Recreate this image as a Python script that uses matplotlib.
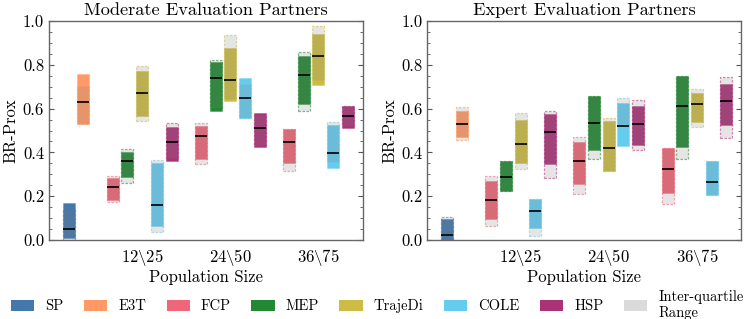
import numpy as np
import matplotlib
matplotlib.use("Agg")
import matplotlib.pyplot as plt
from matplotlib.patches import Patch
from matplotlib.colors import to_rgba
from matplotlib.ticker import MultipleLocator, FormatStrFormatter

plt.rcParams['font.family'] = 'serif'
plt.rcParams['font.serif'] = ['cmr10']
plt.rcParams['mathtext.fontset'] = 'cm'
plt.rcParams['axes.formatter.use_mathtext'] = True
plt.rcParams['font.size'] = 12

# methods and population sizes
methods = ['SP', 'E3T', 'FCP', 'MEP', 'TrajeDi', 'COLE', 'HSP']
colors = ['#4477AA', '#FF9966', '#EE6677', '#228833', '#CCBB44', '#66CCEE', '#AA3377']
pop_sizes = [r'$12\backslash25$', r'$24\backslash50$', r'$36\backslash75$']
titles = ['Moderate Evaluation Partners', 'Expert Evaluation Partners']

# --- Moderate evaluation partners ---
# SP and E3T: [lo, hi, q1, q3, median]
mod_sp = [0.008, 0.167, 0.0, 0.14, 0.052]
mod_e3t = [0.528, 0.758, 0.528, 0.703, 0.629]
# population methods (FCP, MEP, TrajeDi, COLE, HSP) x (12\25, 24\50, 36\75)
mod_lo = [[0.183, 0.368, 0.350],
          [0.286, 0.589, 0.619],
          [0.568, 0.636, 0.706],
          [0.065, 0.556, 0.330],
          [0.362, 0.426, 0.510]]
mod_hi = [[0.283, 0.521, 0.505],
          [0.403, 0.813, 0.842],
          [0.773, 0.878, 0.942],
          [0.350, 0.738, 0.525],
          [0.517, 0.580, 0.612]]
mod_q1 = [[0.172, 0.346, 0.317],
          [0.259, 0.604, 0.591],
          [0.545, 0.645, 0.731],
          [0.038, 0.556, 0.358],
          [0.376, 0.430, 0.520]]
mod_q3 = [[0.292, 0.533, 0.505],
          [0.414, 0.820, 0.857],
          [0.796, 0.936, 0.976],
          [0.364, 0.711, 0.537],
          [0.533, 0.575, 0.612]]
mod_med = [[0.242, 0.473, 0.446],
           [0.362, 0.738, 0.752],
           [0.671, 0.732, 0.839],
           [0.160, 0.648, 0.396],
           [0.449, 0.513, 0.566]]

# --- Expert evaluation partners ---
exp_sp = [0.0, 0.096, 0.0, 0.105, 0.023]
exp_e3t = [0.472, 0.591, 0.458, 0.606, 0.528]
exp_lo = [[0.096, 0.254, 0.213],
          [0.225, 0.412, 0.426],
          [0.353, 0.315, 0.540],
          [0.053, 0.428, 0.204],
          [0.347, 0.432, 0.524]]
exp_hi = [[0.269, 0.446, 0.422],
          [0.361, 0.656, 0.750],
          [0.548, 0.543, 0.673],
          [0.189, 0.627, 0.359],
          [0.577, 0.613, 0.711]]
exp_q1 = [[0.065, 0.210, 0.163],
          [0.225, 0.368, 0.371],
          [0.323, 0.315, 0.514],
          [0.018, 0.520, 0.204],
          [0.282, 0.409, 0.464]]
exp_q3 = [[0.294, 0.469, 0.422],
          [0.361, 0.656, 0.750],
          [0.581, 0.556, 0.691],
          [0.189, 0.650, 0.359],
          [0.588, 0.641, 0.746]]
exp_med = [[0.181, 0.362, 0.324],
           [0.289, 0.533, 0.610],
           [0.437, 0.422, 0.621],
           [0.131, 0.521, 0.263],
           [0.493, 0.531, 0.635]]

panels = [
    (mod_sp, mod_e3t, mod_lo, mod_hi, mod_q1, mod_q3, mod_med),
    (exp_sp, exp_e3t, exp_lo, exp_hi, exp_q1, exp_q3, exp_med),
]

step = 1 / 6
width = 0.136


def draw_bar(ax, x, lo, hi, q1, q3, med, c):
    ax.bar(x, hi - lo, bottom=lo, width=width, color=c, edgecolor=to_rgba(c, 0.4),
           linewidth=0.6, zorder=2)
    ax.bar(x, q3 - q1, bottom=q1, width=width, facecolor=(0.5, 0.5, 0.5, 0.2),
           edgecolor=to_rgba(c, 0.55), linestyle=(0, (2, 1.2)), linewidth=0.9, zorder=3)
    ax.hlines(med, x - width / 2, x + width / 2, color='black', linewidth=1.2, zorder=4)


fig, axes = plt.subplots(1, 2, figsize=(7.47, 3.19), dpi=100)
fig.subplots_adjust(left=0.0656, right=0.992, bottom=0.2476, top=0.934, wspace=0.207)

for ax, title, (sp, e3t, lo, hi, q1, q3, med) in zip(axes, titles, panels):
    draw_bar(ax, 0 + step, *sp, colors[0])
    draw_bar(ax, 0 + 2 * step, *e3t, colors[1])
    for m in range(5):
        for g in range(3):
            x = (g + 1) + (m - 2) * step
            draw_bar(ax, x, lo[m][g], hi[m][g], q1[m][g], q3[m][g], med[m][g], colors[m + 2])

    ax.set_xlim(-0.057, 3.5)
    ax.set_ylim(0, 1)
    ax.set_xticks([1, 2, 3])
    ax.set_xticklabels(pop_sizes)
    ax.yaxis.set_major_locator(MultipleLocator(0.2))
    ax.yaxis.set_minor_locator(MultipleLocator(0.05))
    ax.yaxis.set_major_formatter(FormatStrFormatter('%.1f'))
    ax.tick_params(axis='x', length=0, pad=5)
    ax.tick_params(axis='y', which='both', direction='in', left=True, right=True)
    ax.tick_params(axis='y', which='major', length=3.5, width=0.8, color='#555555')
    ax.tick_params(axis='y', which='minor', length=2, width=0.6, color='#555555')
    for s in ax.spines.values():
        s.set_color('#666666')
        s.set_linewidth(1.0)
    ax.set_title(title, pad=4, fontsize=13.2)
    ax.set_xlabel('Population Size', labelpad=1)
    ax.set_ylabel('BR-Prox', labelpad=3)

handles = [Patch(facecolor=c) for c in colors] + [Patch(facecolor='#dadada')]
labels = methods + ['Inter-quartile\nRange']
fig.legend(handles, labels, loc='lower center', ncol=8, frameon=False,
           bbox_to_anchor=(0.505, -0.045), handlelength=1.6, handleheight=0.75,
           handletextpad=0.75, columnspacing=1.4, fontsize=10.5, labelspacing=0.1)

fig.savefig('out.png', dpi=100)
